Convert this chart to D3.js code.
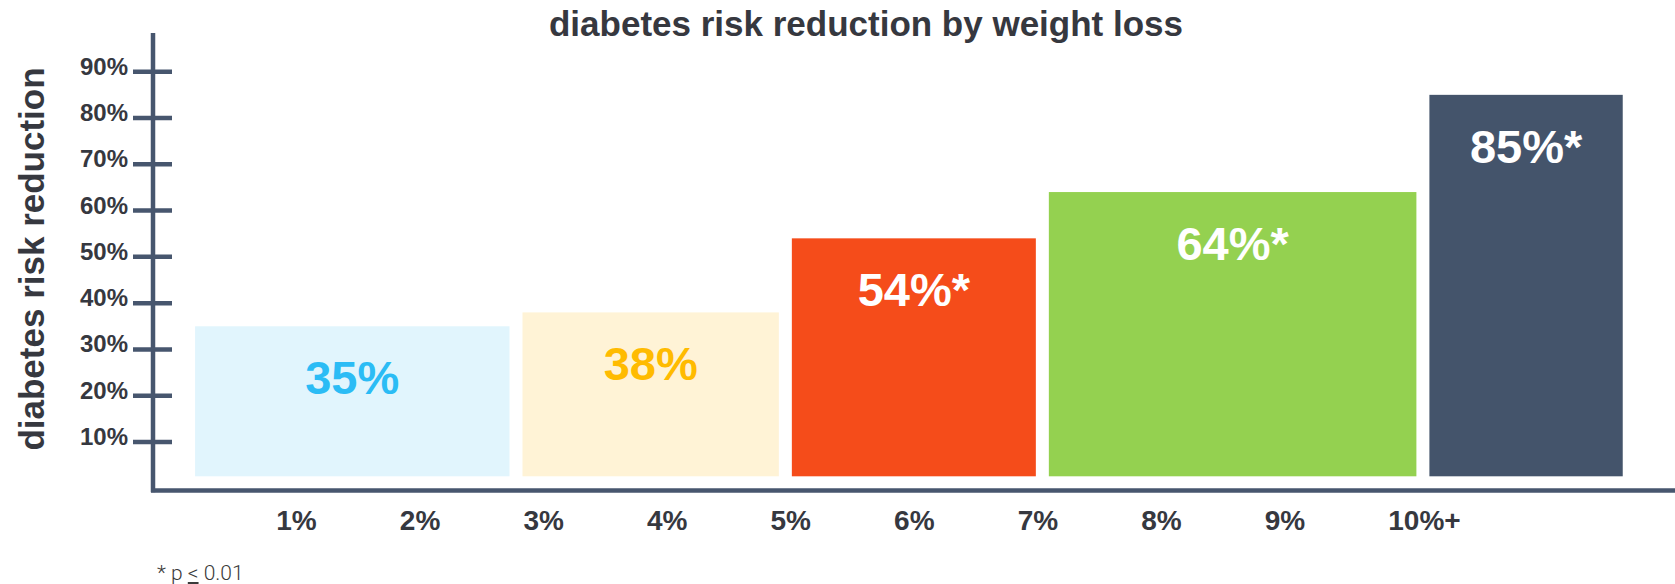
<!DOCTYPE html>
<html>
<head>
<meta charset="utf-8">
<script src="https://cdn.jsdelivr.net/npm/d3@7"></script>
<style>
  html, body { margin: 0; padding: 0; background: #ffffff; }
  svg { display: block; }
</style>
</head>
<body>
<svg id="chart" width="1675" height="584"></svg>
<script>
// Weight-loss groups and the diabetes risk reduction measured for each
const groupValues = [35, 38, 54, 64, 85];
const groupLabels = ["35%", "38%", "54%", "64%", "85%"];
const groupSignificant = [false, false, true, true, true];
// Edges of the weight-loss bins on the x scale (in % weight loss)
const binEdges = [0.29, 2.94, 5.12, 7.2, 10.28, 11.95];
// Axis ticks
const xTickValues = [1, 2, 3, 4, 5, 6, 7, 8, 9, 10];
const xTickLabels = ["1%", "2%", "3%", "4%", "5%", "6%", "7%", "8%", "9%", "10%+"];
const yTickValues = [10, 20, 30, 40, 50, 60, 70, 80, 90];

const fillColors = ["#e1f5fd", "#fff3d6", "#f54c1a", "#94d150", "#44546b"];
const labelColors = ["#2bbcf5", "#ffbb00", "#ffffff", "#ffffff", "#ffffff"];
const axisColor = "#47566e";
const textColor = "#36383f";
const font = "'Liberation Sans', Arial, sans-serif";

const svg = d3.select("#chart");

const x = d3.scaleLinear().domain([1, 10]).range([276.3, 1388.3]);
const y = d3.scaleLinear().domain([0, 90]).range([488.3, 71.7]);
const barBottom = y(0) - 12;
const barGap = 6.5;

// Title
svg.append("text")
  .attr("x", 866).attr("y", 36)
  .attr("text-anchor", "middle")
  .attr("font-family", font).attr("font-weight", "bold")
  .attr("font-size", 35).attr("fill", textColor)
  .text("diabetes risk reduction by weight loss");

// Y axis title
svg.append("text")
  .attr("transform", "translate(44," + 259 + ") rotate(-90)")
  .attr("text-anchor", "middle")
  .attr("font-family", font).attr("font-weight", "bold")
  .attr("font-size", 35).attr("fill", textColor)
  .text("diabetes risk reduction");

// Bars
const bars = svg.append("g");
groupValues.forEach((v, i) => {
  const x0 = x(binEdges[i]) + barGap;
  const x1 = x(binEdges[i + 1]) - barGap;
  bars.append("rect")
    .attr("x", x0).attr("y", y(v))
    .attr("width", x1 - x0).attr("height", barBottom - y(v))
    .attr("fill", fillColors[i]);

  const cx = (x0 + x1) / 2;
  const label = bars.append("text")
    .attr("x", cx).attr("y", y(v) + 68)
    .attr("text-anchor", "middle")
    .attr("font-family", font).attr("font-weight", "bold")
    .attr("font-size", 47).attr("fill", labelColors[i]);
  label.append("tspan").text(groupLabels[i]);
  if (groupSignificant[i]) label.append("tspan").text("*");
});

// Y axis: line, ticks and labels
const yAxis = svg.append("g");
yAxis.append("line")
  .attr("x1", 153).attr("x2", 153)
  .attr("y1", 33).attr("y2", y(0) + 4)
  .attr("stroke", axisColor).attr("stroke-width", 4.5);
yAxis.selectAll("line.tick").data(yTickValues).enter().append("line")
  .attr("class", "tick")
  .attr("x1", 133).attr("x2", 172)
  .attr("y1", d => y(d)).attr("y2", d => y(d))
  .attr("stroke", axisColor).attr("stroke-width", 4.5);
yAxis.selectAll("text").data(yTickValues).enter().append("text")
  .attr("x", 128).attr("y", d => y(d) + 3)
  .attr("text-anchor", "end")
  .attr("font-family", font).attr("font-weight", "bold")
  .attr("font-size", 24).attr("fill", textColor)
  .text(d => d + "%");

// X axis: line and labels
const xAxis = svg.append("g");
xAxis.append("line")
  .attr("x1", 151).attr("x2", 1675)
  .attr("y1", 490.5).attr("y2", 490.5)
  .attr("stroke", axisColor).attr("stroke-width", 4.5);
xAxis.selectAll("text").data(xTickValues).enter().append("text")
  .attr("x", d => x(d)).attr("y", 530)
  .attr("text-anchor", "start")
  .attr("font-family", font).attr("font-weight", "bold")
  .attr("font-size", 28).attr("fill", textColor)
  .text((d, i) => xTickLabels[i]);

// Footnote
const note = svg.append("text")
  .attr("x", 157).attr("y", 580)
  .attr("font-family", "Roboto, sans-serif").attr("font-weight", 300)
  .attr("font-size", 21).attr("fill", "#3a3a3a");
note.append("tspan").text("* p ");
note.append("tspan").attr("text-decoration", "underline").text("<");
note.append("tspan").text(" 0.01");
</script>
</body>
</html>
